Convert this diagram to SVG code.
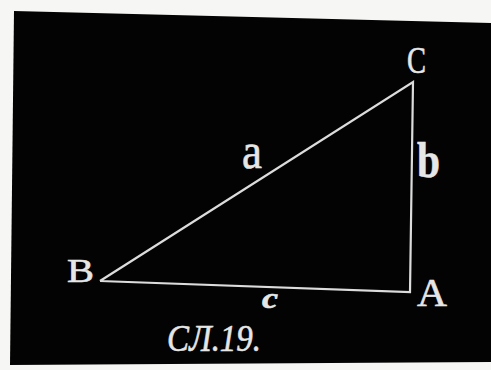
<svg xmlns="http://www.w3.org/2000/svg" width="491" height="370" viewBox="0 0 491 370">
<style>
.lbl{fill:#e6e6e6;stroke:#e6e6e6;stroke-width:0.6;font-family:"Liberation Serif","DejaVu Serif",serif}
.edge{stroke:#dcdcdc;stroke-width:2.2;fill:none;stroke-linejoin:miter}
</style>
<rect x="0" y="0" width="491" height="370" fill="#f6f6f4"/>
<polygon id="panel" points="14,11 491,23 491,362 10,365" fill="#030303"/>
<g id="triangle">
<polyline class="edge" points="100,281 413,82 410,292 100,281"/>
</g>
<g id="labels">
<text id="lblB" class="lbl" x="67" y="282" font-size="34" textLength="27" lengthAdjust="spacingAndGlyphs">B</text>
<text id="lblA" class="lbl" x="417" y="306" font-size="41" textLength="30" lengthAdjust="spacingAndGlyphs">A</text>
<text id="lblC" class="lbl" x="407" y="73" font-size="38" textLength="19" lengthAdjust="spacingAndGlyphs">C</text>
<text id="lbla" class="lbl" x="242" y="168" font-size="50" textLength="20" lengthAdjust="spacingAndGlyphs">a</text>
<text id="lblb" class="lbl" x="417" y="177" font-size="50" font-weight="bold" textLength="23" lengthAdjust="spacingAndGlyphs">b</text>
<text id="lblc" class="lbl" x="262" y="308" font-size="30" font-style="italic" font-weight="bold" textLength="16" lengthAdjust="spacingAndGlyphs">c</text>
<text id="caption" class="lbl" x="167" y="351" font-size="38" font-style="italic" textLength="94" lengthAdjust="spacingAndGlyphs">СЛ.19.</text>
</g>
</svg>
